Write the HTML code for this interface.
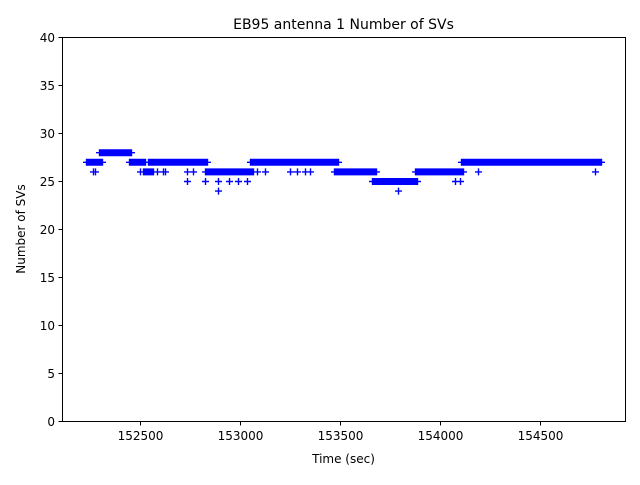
<!DOCTYPE html>
<html><head><meta charset="utf-8"><style>
body{margin:0;background:#fff}
</style></head><body>
<svg id="s" width="640" height="480" xmlns="http://www.w3.org/2000/svg" font-family="DejaVu Sans, Liberation Sans, sans-serif" font-size="12">
<rect width="640" height="480" fill="#fff"/>
<text x="343.5" y="29" font-size="14" text-anchor="middle" fill="#000">EB95 antenna 1 Number of SVs</text>
<g id="d"></g>
<rect x="62.5" y="37.5" width="563" height="384" fill="none" stroke="#000" stroke-width="1"/>
<g id="ax" stroke="#000"></g>
<text x="343.5" y="463" text-anchor="middle" fill="#000">Time (sec)</text>
<text transform="translate(25,229) rotate(-90)" text-anchor="middle" fill="#000">Number of SVs</text>
</svg>
<script>
var ns="http://www.w3.org/2000/svg",svg=document.getElementById('s'),ax=document.getElementById('ax'),d=document.getElementById('d');
function Y(v){return 421.5-v*9.6}
for(var v=0;v<=40;v+=5){var y=Y(v);
 ax.innerHTML+='<line x1="58.5" x2="62.5" y1="'+y+'" y2="'+y+'"/>';
 var t=document.createElementNS(ns,'text');t.setAttribute('x',55);t.setAttribute('y',y+4.5);t.setAttribute('text-anchor','end');t.setAttribute('fill','#000');t.textContent=v;svg.appendChild(t);}
var xt=[[152500,140],[153000,240],[153500,340],[154000,440],[154500,540]];
xt.forEach(function(a){var x=a[1]+0.5;ax.innerHTML+='<line x1="'+x+'" x2="'+x+'" y1="421.5" y2="425.5"/>';
 var t=document.createElementNS(ns,'text');t.setAttribute('x',x);t.setAttribute('y',440);t.setAttribute('text-anchor','middle');t.setAttribute('fill','#000');t.textContent=a[0];svg.appendChild(t);});
var segs=[[86,102,27],[99,131,28],[129,145,27],[143,153,26],[148,207,27],[205,253,26],[250,268,27],[265,338,27],[334,376,26],[372,417,25],[415,463,26],[461,601,27]];
var pts=[[93,26],[95,26],[157,26],[165,26],[187,26],[187,25],[205,25],[218,25],[218,24],[238,25],[247,25],[257,26],[265,26],[290,26],[297,26],[305,26],[310,26],[398,24],[455,25],[460,25],[478,26],[595,26],[140,26],[163,26],[193,26],[229,25],[336,26]];
var p='';
function plus(x,y){p+='M'+(x-3.5)+' '+y+'h7M'+x+' '+(y-3.5)+'v7';}
segs.forEach(function(s){for(var x=s[0];x<=s[1];x+=1)plus(x+0.5,Y(s[2]));});
pts.forEach(function(a){plus(a[0]+0.5,Y(a[1]));});
var path=document.createElementNS(ns,'path');path.setAttribute('d',p);path.setAttribute('stroke','#0000ff');path.setAttribute('stroke-width','1.4');path.setAttribute('fill','none');d.appendChild(path);
</script>
</body></html>
